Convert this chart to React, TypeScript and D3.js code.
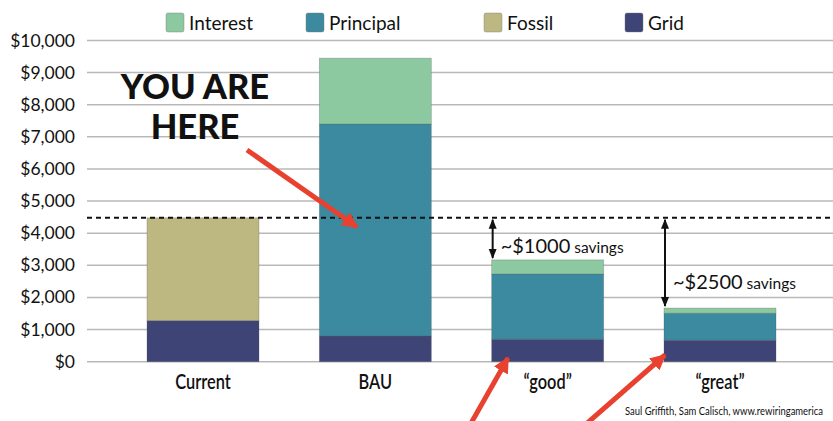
import React from "react";
import * as d3 from "d3";

const categories = ["Current", "BAU", "\u201Cgood\u201D", "\u201Cgreat\u201D"];
const gridValues = [1280, 800, 700, 670];
const fossilValues = [3200, 0, 0, 0];
const principalValues = [0, 6600, 2030, 840];
const interestValues = [0, 2050, 440, 160];
const yTicks = [0, 1000, 2000, 3000, 4000, 5000, 6000, 7000, 8000, 9000, 10000];
const currentLevel = 4480;
const seriesNames = ["Interest", "Principal", "Fossil", "Grid"];
const stackOrder = ["Grid", "Fossil", "Principal", "Interest"];
const savingsLabels = [
  { cat: "\u201Cgood\u201D", big: "~$1000", small: " savings", top: 3170 },
  { cat: "\u201Cgreat\u201D", big: "~$2500", small: " savings", top: 1670 },
];

const colors: Record<string, string> = {
  Interest: "#8cc9a1",
  Principal: "#3b8a9f",
  Fossil: "#bdb882",
  Grid: "#3e4476",
};

const W = 833;
const H = 421;

export default function App() {
  const y = d3.scaleLinear().domain([0, 10000]).range([361.7, 40.5]);
  const x = d3.scalePoint<string>().domain(categories).range([203, 720]);
  const barW = 112;

  const rows = categories.map((c, i) => ({
    cat: c,
    Grid: gridValues[i],
    Fossil: fossilValues[i],
    Principal: principalValues[i],
    Interest: interestValues[i],
  }));
  const stack = d3.stack<any>().keys(stackOrder)(rows);

  const legendX: Record<string, number> = { Interest: 166, Principal: 306, Fossil: 484, Grid: 625 };
  const sans = "Lato, 'Open Sans', sans-serif";
  const red = "#e8412f";

  return (
    <svg width={W} height={H} style={{ position: "absolute", left: 0, top: 0, background: "#fff" }}>
      <defs>
        <marker id="ah" viewBox="0 0 10 10" refX="9" refY="5" markerWidth="3.2" markerHeight="3.2" orient="auto-start-reverse">
          <path d="M0,0 L10,5 L0,10 z" fill={red} />
        </marker>
        <marker id="bk" viewBox="0 0 10 10" refX="9" refY="5" markerWidth="5" markerHeight="5" orient="auto-start-reverse">
          <path d="M0,1 L10,5 L0,9 z" fill="#111" />
        </marker>
      </defs>

      {/* gridlines and tick labels */}
      {yTicks.map((t) => (
        <g key={t}>
          <line x1={87} x2={W} y1={y(t)} y2={y(t)} stroke="#b9b9b9" strokeWidth={1.5} />
          <text x={75} y={y(t) + 6} textAnchor="end" fontFamily={sans} fontSize={17.5} fill="#111">
            {d3.format("$,")(t)}
          </text>
        </g>
      ))}

      {/* bars */}
      {stack.map((s) => (
        <g key={s.key} fill={colors[s.key]}>
          {s.map((d, i) =>
            d[1] - d[0] > 0 ? (
              <rect
                key={i}
                x={(x(categories[i]) as number) - barW / 2}
                width={barW}
                y={y(d[1])}
                height={y(d[0]) - y(d[1])}
                stroke="#5a5a5a"
                strokeOpacity={0.35}
                strokeWidth={0.8}
              />
            ) : null
          )}
        </g>
      ))}

      {/* current level dashed line */}
      <line x1={87} x2={W} y1={y(currentLevel)} y2={y(currentLevel)} stroke="#111" strokeWidth={2} strokeDasharray="5,4" />

      {/* savings arrows */}
      {savingsLabels.map((s, i) => {
        const cx = (x(s.cat) as number) - barW / 2 + 1;
        const y0 = y(currentLevel) + 2;
        const y1 = y(s.top) - 2;
        const ty = i === 0 ? 253 : 289;
        return (
          <g key={s.cat}>
            <line x1={cx} x2={cx} y1={y0} y2={y1} stroke="#111" strokeWidth={2} markerStart="url(#bk)" markerEnd="url(#bk)" />
            <text x={cx + 8} y={ty} fontFamily={sans} fill="#111">
              <tspan fontSize={20}>{s.big}</tspan>
              <tspan fontSize={15.5}>{s.small}</tspan>
            </text>
          </g>
        );
      })}

      {/* category labels (condensed) */}
      {categories.map((c) => (
        <g key={c} transform={`translate(${x(c)},389) scale(0.78,1)`}>
          <text x={0} y={0} textAnchor="middle" fontFamily={sans} fontWeight={600} fontSize={21} fill="#111">
            {c}
          </text>
        </g>
      ))}

      {/* legend */}
      {seriesNames.map((n) => (
        <g key={n}>
          <rect x={legendX[n]} y={13} width={18} height={19} rx={2} fill={colors[n]} stroke="#777" strokeOpacity={0.4} />
          <text x={legendX[n] + 23} y={30} fontFamily={sans} fontSize={19} fill="#111">
            {n}
          </text>
        </g>
      ))}

      {/* YOU ARE HERE */}
      <text x={195} y={99} textAnchor="middle" fontFamily={sans} fontWeight={900} fontSize={34.5} fill="#111">
        YOU ARE
      </text>
      <text x={195} y={139} textAnchor="middle" fontFamily={sans} fontWeight={900} fontSize={34.5} fill="#111">
        HERE
      </text>

      {/* red arrows */}
      <line x1={247} y1={150} x2={357} y2={227} stroke={red} strokeWidth={5} markerEnd="url(#ah)" />
      <line x1={470} y1={425} x2={508} y2={358} stroke={red} strokeWidth={5} markerEnd="url(#ah)" />
      <line x1={585} y1={425} x2={665} y2={355} stroke={red} strokeWidth={5} markerEnd="url(#ah)" />

      {/* credit */}
      <g transform="translate(625,415) scale(0.86,1)">
        <text x={0} y={0} fontFamily={sans} fontSize={11} fill="#111">
          Saul Griffith, Sam Calisch, www.rewiringamerica
        </text>
      </g>
    </svg>
  );
}
